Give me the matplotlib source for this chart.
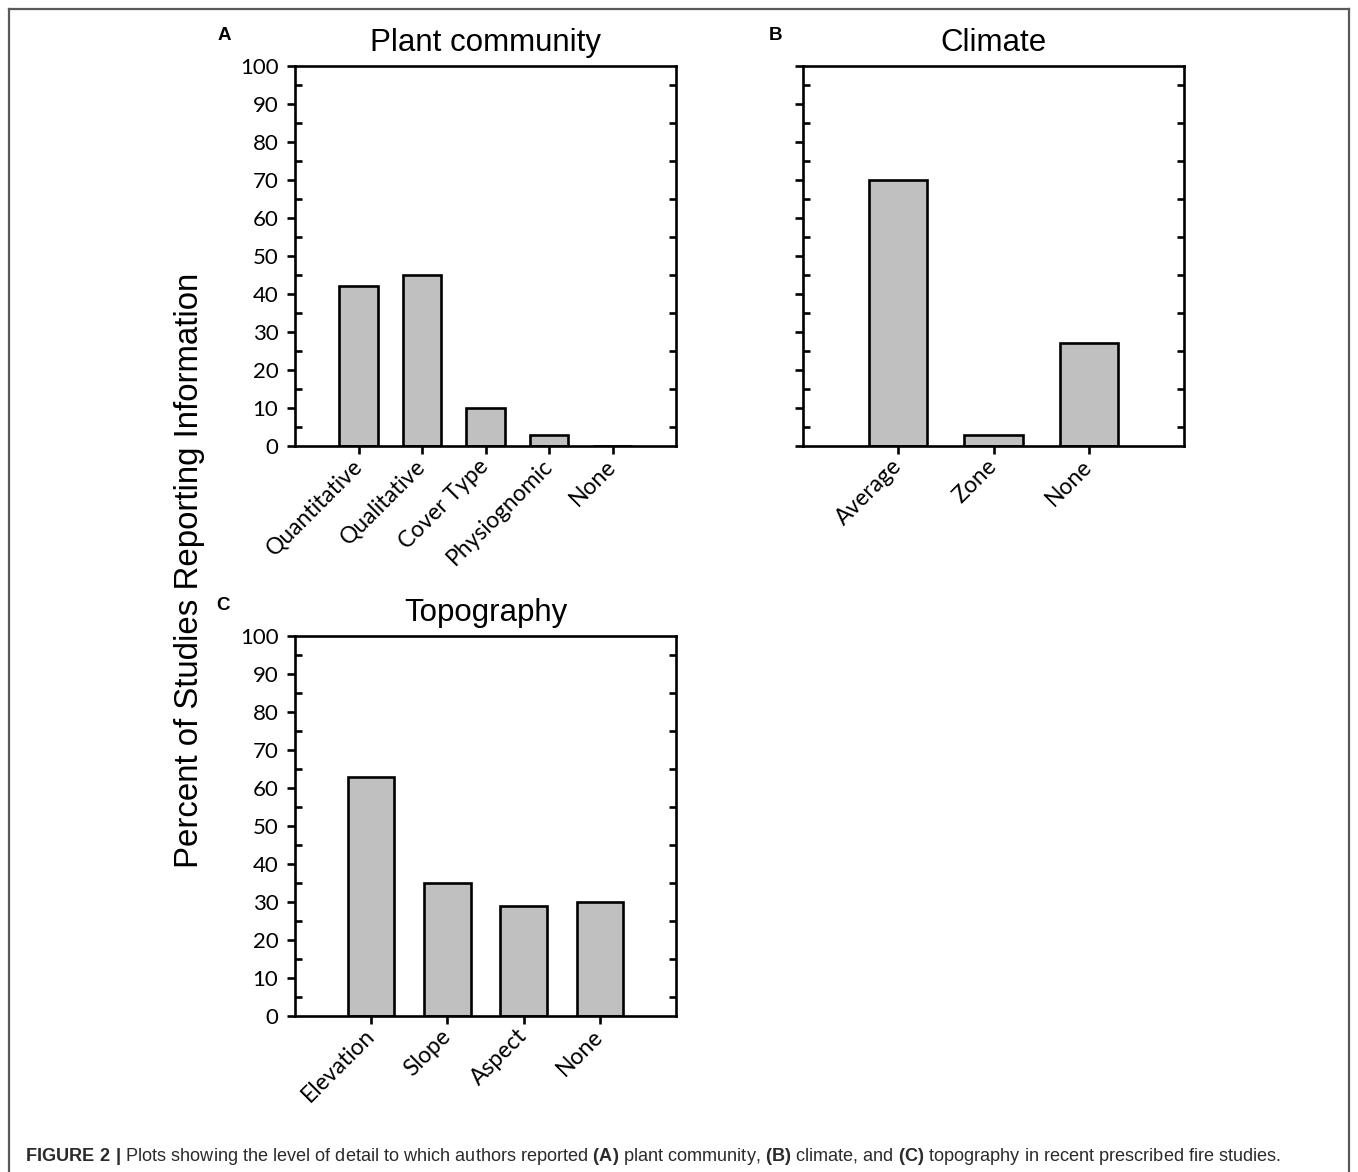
import matplotlib
matplotlib.use("Agg")
import matplotlib.pyplot as plt
from matplotlib.lines import Line2D

# ---- data ----
plant_categories = ["Quantitative", "Qualitative", "Cover Type", "Physiognomic", "None"]
plant_values = [42, 45, 10, 3, 0]

climate_categories = ["Average", "Zone", "None"]
climate_values = [70, 3, 27]

topo_categories = ["Elevation", "Slope", "Aspect", "None"]
topo_values = [63, 35, 29, 30]

y_ticks = list(range(0, 101, 10))
y_minor_ticks = list(range(5, 100, 10))

TICK_FONT = "Lato"
HEAD_FONT = "Liberation Sans"
LW = 1.9
BAR_FILL = "#c0c0c0"

plt.rcParams["mathtext.fontset"] = "custom"
plt.rcParams["mathtext.rm"] = HEAD_FONT
plt.rcParams["mathtext.bf"] = HEAD_FONT + ":bold"

W, H = 1358, 1172
fig = plt.figure(figsize=(W / 100, H / 100), dpi=100)


def px_rect(x0, y0, x1, y1):
    return [x0 / W, 1 - y1 / H, (x1 - x0) / W, (y1 - y0) / H]


def panel(rect, cats, vals, title, letter, letter_xy, show_labels=True):
    ax = fig.add_axes(px_rect(*rect))
    n = len(cats)
    pos = list(range(1, n + 1))
    ax.bar(pos, vals, width=0.61, color=BAR_FILL, edgecolor="black",
           linewidth=LW, zorder=2)
    ax.set_xlim(0, n + 1)
    ax.set_ylim(0, 100)
    ax.set_xticks(pos)
    ax.set_xticklabels(cats, rotation=45, ha="right", va="center",
                       rotation_mode="anchor", fontsize=16.5,
                       family=TICK_FONT)
    ax.set_yticks(y_ticks)
    ax.set_yticks(y_minor_ticks, minor=True)
    if show_labels:
        ax.set_yticklabels([str(v) for v in y_ticks], fontsize=16,
                           family=TICK_FONT)
    else:
        ax.set_yticklabels([])
    for s in ax.spines.values():
        s.set_linewidth(LW)
    ax.tick_params(axis="y", which="major", direction="out", length=6,
                   width=LW, left=True, right=False, pad=6)
    ax.tick_params(axis="y", which="minor", direction="in", length=5,
                   width=LW, left=True, right=True)
    ax.tick_params(axis="x", which="major", direction="out", length=6,
                   width=LW, top=False, pad=6)
    ax.tick_params(axis="x", which="minor", bottom=False, top=False)
    ax.set_title(title, fontsize=22.5, family=HEAD_FONT, pad=11)
    fig.text(letter_xy[0] / W, 1 - letter_xy[1] / H, letter,
             fontsize=13.5, fontweight="bold", family=HEAD_FONT,
             ha="center", va="center")
    return ax


panel((295, 66, 676, 446), plant_categories, plant_values,
      "Plant community", "A", (224, 35))
panel((803, 66, 1184, 446), climate_categories, climate_values,
      "Climate", "B", (776, 35), show_labels=False)
panel((295, 636, 676, 1016), topo_categories, topo_values,
      "Topography", "C", (223, 605))

fig.text(190 / W, 1 - 570 / H, "Percent of Studies Reporting Information",
         rotation=90, fontsize=23.8, family=HEAD_FONT, ha="center", va="center")

# outer frame of the figure box
frame_kw = dict(color="#5a5a5a", linewidth=1.6, transform=fig.transFigure)
fig.add_artist(Line2D([8.5 / W, 8.5 / W], [0, 1 - 9 / H], **frame_kw))
fig.add_artist(Line2D([1349 / W, 1349 / W], [0, 1 - 9 / H], **frame_kw))
fig.add_artist(Line2D([8.5 / W, 1349 / W], [1 - 9 / H, 1 - 9 / H], **frame_kw))

# caption with bold figure number and panel letters
caption = (r"$\mathbf{FIGURE\ 2\ |}$ Plots showing the level of detail to which "
           r"authors reported $\mathbf{(A)}$ plant community, $\mathbf{(B)}$ "
           r"climate, and $\mathbf{(C)}$ topography in recent prescribed fire studies.")
fig.text(25 / W, 1 - 1161 / H, caption, fontsize=13.1, family=HEAD_FONT,
         color="#2b2b2b", ha="left", va="baseline")

fig.savefig("out.png", dpi=100, facecolor="white")
